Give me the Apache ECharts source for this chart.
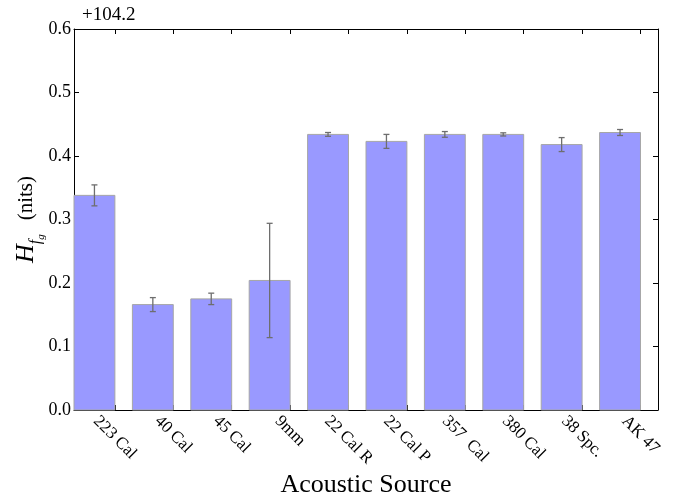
<!DOCTYPE html>
<html>
<head>
<meta charset="utf-8">
<script src="https://cdn.jsdelivr.net/npm/echarts@6/dist/echarts.min.js"></script>
<style>html,body{margin:0;padding:0;background:#fff}#c{width:675px;height:498px}</style>
</head>
<body>
<div id="c"></div>
<script>
// ---- data ----
const categories = ['223 Cal', '40 Cal', '45 Cal', '9mm', '22 Cal R', '22 Cal P', '357  Cal', '380 Cal', '38 Spc.', 'AK 47'];
const offset = 104.2;
const means = [104.538, 104.366, 104.375, 104.404, 104.634, 104.623, 104.634, 104.634, 104.618, 104.637];
const errors = [0.0165, 0.011, 0.009, 0.090, 0.003, 0.011, 0.0045, 0.0025, 0.011, 0.0047];
const yTicks = [0.0, 0.1, 0.2, 0.3, 0.4, 0.5, 0.6];

// ---- layout / style ----
const FONT = '"Liberation Serif", "DejaVu Serif", serif';
const BAR_W = 0.7;
const LABEL_SIZE = 17;
const tickPos = categories.map((c, i) => i + BAR_W);

// per-label shift so the rotated bounding boxes hang from the axis like matplotlib's
const ctx = document.createElement('canvas').getContext('2d');
ctx.font = LABEL_SIZE + 'px ' + FONT;
const widths = categories.map(c => ctx.measureText(c).width);
const wMin = Math.min.apply(null, widths);
const rich = {};
categories.forEach((c, i) => {
  const a = Math.max(0, (widths[i] - wMin) / 2);
  rich['p' + i] = { fontFamily: FONT, fontSize: LABEL_SIZE, color: '#000', padding: [a, 0, 0, a] };
});

const chart = echarts.init(document.getElementById('c'), null, { renderer: 'canvas' });

const axisLine = { show: true, onZero: false, lineStyle: { color: '#000', width: 1 } };
const tickStyle = { color: '#000', width: 1 };

chart.setOption({
  animation: false,
  backgroundColor: '#fff',
  title: {
    text: '+' + offset.toFixed(1),
    left: 77, top: 1,
    textStyle: { fontFamily: FONT, fontSize: 19, fontWeight: 'normal', color: '#000' }
  },
  grid: { left: 74, right: 17, top: 29, bottom: 88, containLabel: false, outerBoundsMode: 'none' },
  xAxis: [{
    type: 'value', min: 0, max: categories.length, position: 'bottom',
    axisLine: axisLine,
    axisTick: { show: true, inside: true, length: 5, customValues: tickPos, lineStyle: tickStyle },
    axisLabel: {
      customValues: tickPos, rotate: -45, align: 'center', verticalAlign: 'middle', margin: 21,
      fontFamily: FONT, fontSize: LABEL_SIZE, color: '#000', rich: rich,
      formatter: (v) => { const i = Math.round(v - BAR_W); return '{p' + i + '|' + categories[i] + '}'; }
    },
    splitLine: { show: false },
    name: 'Acoustic Source', nameLocation: 'middle', nameGap: 62, nameMoveOverlap: false,
    nameTextStyle: { fontFamily: FONT, fontSize: 26, color: '#000' }
  }, {
    type: 'value', min: 0, max: categories.length, position: 'top',
    axisLine: axisLine,
    axisTick: { show: true, inside: true, length: 5, customValues: tickPos, lineStyle: tickStyle },
    axisLabel: { show: false }, splitLine: { show: false }
  }],
  yAxis: [{
    type: 'value', min: yTicks[0], max: yTicks[yTicks.length - 1], interval: 0.1, position: 'left',
    axisLine: axisLine,
    axisTick: { show: true, inside: true, length: 5, lineStyle: tickStyle },
    axisLabel: { margin: 3, fontFamily: FONT, fontSize: 18, color: '#000', formatter: v => v.toFixed(1) },
    splitLine: { show: false },
    name: '{H|H}{f|f}{g|g}{n|(nits)}', nameLocation: 'middle', nameGap: 27, nameRotate: 90, nameMoveOverlap: false,
    nameTextStyle: {
      rich: {
        H: { fontFamily: FONT, fontSize: 26, fontStyle: 'italic', color: '#000', verticalAlign: 'top', padding: [0, 0, 8, 0] },
        f: { fontFamily: FONT, fontSize: 16, fontStyle: 'italic', color: '#000', verticalAlign: 'bottom', padding: [0, 0, 3, 0] },
        g: { fontFamily: FONT, fontSize: 11, fontStyle: 'italic', color: '#000', verticalAlign: 'bottom' },
        n: { fontFamily: FONT, fontSize: 21, color: '#000', verticalAlign: 'top', padding: [3, 0, 0, 14] }
      }
    }
  }, {
    type: 'value', min: yTicks[0], max: yTicks[yTicks.length - 1], interval: 0.1, position: 'right',
    axisLine: axisLine,
    axisTick: { show: true, inside: true, length: 5, lineStyle: tickStyle },
    axisLabel: { show: false }, splitLine: { show: false }
  }],
  series: [{
    type: 'custom', name: 'bars', xAxisIndex: 0, yAxisIndex: 0,
    data: means.map((m, i) => [i, m - offset]),
    renderItem: (params, api) => {
      const k = api.value(0), v = api.value(1);
      const p0 = api.coord([k, 0]);
      const p1 = api.coord([k + BAR_W, v]);
      return {
        type: 'rect',
        shape: { x: p0[0], y: p1[1], width: p1[0] - p0[0], height: p0[1] - p1[1] },
        style: { fill: '#9999ff', stroke: '#a6a6a6', lineWidth: 1 }
      };
    }
  }, {
    type: 'custom', name: 'errors', xAxisIndex: 0, yAxisIndex: 0, z: 3,
    data: means.map((m, i) => [i + BAR_W / 2, m - offset - errors[i], m - offset + errors[i]]),
    renderItem: (params, api) => {
      const x = api.value(0);
      const lo = api.coord([x, api.value(1)]);
      const hi = api.coord([x, api.value(2)]);
      const cap = 3;
      const st = { stroke: '#6e6e6e', lineWidth: 1.3 };
      return {
        type: 'group',
        children: [
          { type: 'line', shape: { x1: lo[0], y1: lo[1], x2: hi[0], y2: hi[1] }, style: st },
          { type: 'line', shape: { x1: lo[0] - cap, y1: lo[1], x2: lo[0] + cap, y2: lo[1] }, style: st },
          { type: 'line', shape: { x1: hi[0] - cap, y1: hi[1], x2: hi[0] + cap, y2: hi[1] }, style: st }
        ]
      };
    }
  }]
});
</script>
</body>
</html>
